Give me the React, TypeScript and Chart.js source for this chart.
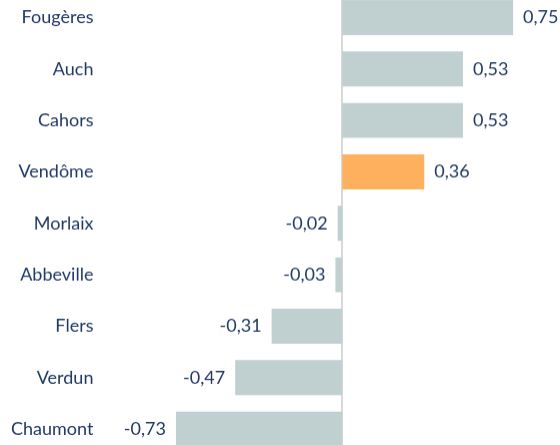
import React, { useEffect, useRef } from "react";
import { Chart, registerables } from "chart.js";

Chart.register(...registerables);

const categories = ["Fougères", "Auch", "Cahors", "Vendôme", "Morlaix", "Abbeville", "Flers", "Verdun", "Chaumont"];
const values = [0.75, 0.53, 0.53, 0.36, -0.02, -0.03, -0.31, -0.47, -0.73];
const highlight = "Vendôme";
const xMin = -1.044;
const xMax = 0.956;

const BAR = "#C0D0D0";
const HIGH = "#FFB05F";
const TEXT = "#1F3864";
const FONT = "Lato, 'Open Sans', sans-serif";
const SIZE = 18;
const TICK_PAD = 11;
const EDGE = (SIZE * 1.2) / 2 + TICK_PAD; // chart.js vertical padding from y labels
const AREA_TOP = -8;
const AREA_H = 462;

const fmt = (v: number) => v.toFixed(2).replace(".", ",");

const labelPlugin = {
  id: "valueLabels",
  beforeDatasetsDraw(chart: any) {
    const ctx = chart.ctx;
    const x0 = Math.round(chart.scales.x.getPixelForValue(0));
    ctx.save();
    ctx.strokeStyle = "#D9D9D9";
    ctx.lineWidth = 2;
    ctx.beginPath();
    ctx.moveTo(x0, 0);
    ctx.lineTo(x0, chart.height);
    ctx.stroke();
    ctx.restore();
  },
  afterDatasetsDraw(chart: any) {
    const ctx = chart.ctx;
    const meta = chart.getDatasetMeta(0);
    ctx.save();
    ctx.font = `${SIZE}px ${FONT}`;
    ctx.fillStyle = TEXT;
    ctx.textBaseline = "middle";
    meta.data.forEach((bar: any, i: number) => {
      const v = values[i];
      if (v >= 0) {
        ctx.textAlign = "left";
        ctx.fillText(fmt(v), bar.x + 10, bar.y);
      } else {
        ctx.textAlign = "right";
        ctx.fillText(fmt(v), bar.x - 10, bar.y);
      }
    });
    ctx.restore();
  },
};

export default function App() {
  const ref = useRef<HTMLCanvasElement>(null);
  useEffect(() => {
    if (!ref.current) return;
    const chart = new Chart(ref.current, {
      type: "bar",
      data: {
        labels: categories,
        datasets: [
          {
            data: values,
            backgroundColor: categories.map((c) => (c === highlight ? HIGH : BAR)),
            barPercentage: 0.68,
            categoryPercentage: 1,
          },
        ],
      },
      options: {
        indexAxis: "y",
        animation: false,
        responsive: true,
        maintainAspectRatio: false,
        layout: { padding: 0 },
        plugins: { legend: { display: false }, tooltip: { enabled: false } },
        scales: {
          x: {
            display: false,
            min: xMin,
            max: xMax,
          },
          y: {
            ticks: { color: TEXT, font: { family: FONT, size: SIZE }, padding: TICK_PAD },
            border: { display: false },
            grid: { display: false, drawTicks: false },
          },
        },
      },
      plugins: [labelPlugin],
    });
    return () => chart.destroy();
  }, []);
  return (
    <div style={{ position: "fixed", left: 0, top: 0, width: 560, height: 445, overflow: "hidden" }}>
      <div
        style={{
          position: "absolute",
          left: 0,
          top: AREA_TOP - EDGE,
          width: 560,
          height: AREA_H + 2 * EDGE,
        }}
      >
        <canvas ref={ref} />
      </div>
    </div>
  );
}
